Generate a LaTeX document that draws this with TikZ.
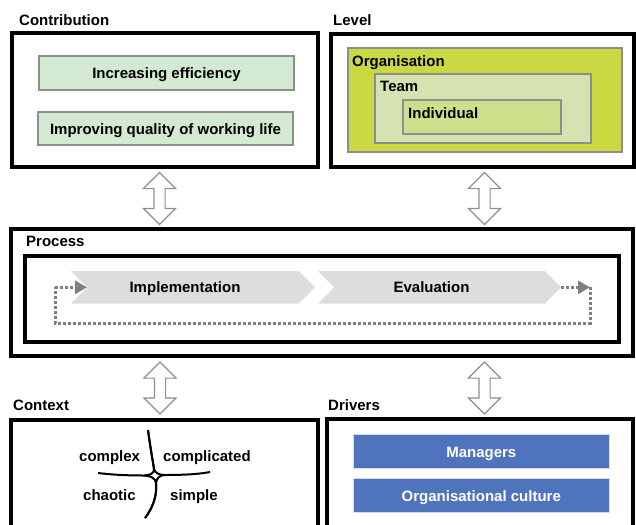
\documentclass[tikz,border=0pt]{standalone}
\usepackage{fontspec}
\setmainfont{Liberation Sans}
\usepackage{tikz}
\usetikzlibrary{positioning, shapes.arrows, shapes.symbols, arrows.meta}
\tikzstyle{canvas} = [x = 1pt, y = -1pt, every node/.style={font=\fontsize{15}{18}\selectfont\bfseries}]
\definecolor{contributionGreen}{HTML}{D4E9D2}
\definecolor{organisationColor}{HTML}{CAD941}
\definecolor{teamColor}{HTML}{D4E3B0}
\definecolor{individualColor}{HTML}{CCE08B}
\definecolor{driverBlue}{HTML}{4F74BD}
\definecolor{chevronGray}{HTML}{DCDDDE}
\definecolor{loopGray}{HTML}{7F7F7F}
\definecolor{outlineGray}{HTML}{8E8E8E}
\tikzstyle{frameStyle} = [draw=black, line width=4pt, inner sep=0]
\tikzstyle{titleText} = [anchor=base west, inner sep=0]
\tikzstyle{greenBox} = [draw=outlineGray, fill=contributionGreen, line width=2pt, text height=11pt, text depth=0pt, inner sep=0]
\tikzstyle{levelBox} = [draw=outlineGray, line width=2pt, inner sep=0]
\tikzstyle{driverBox} = [fill=driverBlue, draw=white!75!driverBlue, text=white, line width=.8pt, text height=11pt, text depth=0pt, inner sep=0]
\tikzstyle{chevronStyle} = [signal, signal to=east, signal from=west, signal pointer angle=90, fill=chevronGray, inner sep=0]
\tikzstyle{processText} = [text height=11pt, text depth=0pt, inner sep=0]
\tikzstyle{loopLine} = [loopGray, line width=3pt, dash pattern=on 3pt off 2pt]
\tikzstyle{loopTip} = [-{Triangle[length=12pt, width=13pt]}]
\tikzstyle{linkArrow} = [double arrow, draw=outlineGray, fill=white, line width=1.2pt, rotate=90, minimum height=52pt, inner xsep=0pt, inner ysep=5pt, double arrow head extend=10.5pt]
\tikzstyle{cynefinLine} = [black, line width=2pt]
\newcommand{\boxAt}[7]{\node [#6, minimum width = #4 - #2, minimum height = #5 - #3] (#1) at ({(#2 + #4) / 2}, {(#3 + #5) / 2}) {#7};}

\begin{document}
\begin{tikzpicture}[canvas]
    \useasboundingbox (0,0) rectangle (636,524);
    \boxAt{contribution}{11.5}{33.5}{318}{166.5}{frameStyle}{}
    \boxAt{level}{330.5}{34}{634}{166.5}{frameStyle}{}
    \boxAt{process}{11.3}{228.7}{633}{355.5}{frameStyle}{}
    \boxAt{processInner}{24.7}{256.3}{618.7}{342}{frameStyle}{}
    \boxAt{context}{11.3}{420.3}{317.5}{545}{frameStyle}{}
    \boxAt{drivers}{327.3}{418.7}{633}{545}{frameStyle}{}
    \node [titleText] (contributionTitle) at (19,26) {Contribution};
    \node [titleText] (levelTitle) at (333,26) {Level};
    \node [titleText] (processTitle) at (26,246) {Process};
    \node [titleText] (contextTitle) at (13,410) {Context};
    \node [titleText] (driversTitle) at (328,410) {Drivers};
    \boxAt{efficiency}{38.7}{56}{294.3}{90}{greenBox}{Increasing efficiency}
    \boxAt{quality}{37.7}{112}{293.3}{145.3}{greenBox}{Improving quality of working life}
    \boxAt{organisation}{347.7}{48.3}{622.3}{152}{levelBox, fill=organisationColor}{}
    \boxAt{team}{375.3}{73.7}{591}{143.3}{levelBox, fill=teamColor}{}
    \boxAt{individual}{403.3}{99.7}{561.3}{134.3}{levelBox, fill=individualColor}{}
    \node [titleText] (organisationText) at (352,66.5) {Organisation};
    \node [titleText] (teamText) at (380,91.5) {Team};
    \node [titleText] (individualText) at (408,118) {Individual};
    \node [chevronStyle, minimum width=244, minimum height=32.5] (implementation) at (193,287.3) {};
    \node [chevronStyle, minimum width=243, minimum height=32.5] (evaluation) at (439.5,287.3) {};
    \node [processText] (implementationText) at ([xshift=-8pt]implementation.center) {Implementation};
    \node [processText] (evaluationText) at ([xshift=-8pt]evaluation.center) {Evaluation};
    \coordinate (loopRight) at (590,287.3);
    \coordinate (loopLeft) at (55,287.3);
    \draw [loopLine, loopTip] (evaluation.east) -- (loopRight);
    \draw [loopLine] (loopRight) -- ++(0,36) -| (loopLeft);
    \draw [loopLine, loopTip] (loopLeft) -- (implementation.west);
    \boxAt{managers}{353.3}{434.3}{609.3}{468.7}{driverBox}{Managers}
    \boxAt{culture}{353.3}{478.3}{609.3}{512.7}{driverBox}{Organisational culture}
    \node [linkArrow] (contributionLink) at (159.5,198.5) {};
    \node [linkArrow] (levelLink) at (484.5,198.5) {};
    \node [linkArrow] (contextLink) at (160,388) {};
    \node [linkArrow] (driversLink) at (484.5,388) {};
    \draw [cynefinLine] (148,430) .. controls (151,452) and (153,462) .. (154,469) .. controls (154.5,473) and (150,475.5) .. (144,475.5) .. controls (125,475.5) and (110,474.5) .. (98,473);
    \draw [cynefinLine] (148,430) .. controls (151,452) and (153,462) .. (154,469) .. controls (155,473) and (159,475) .. (165,475) .. controls (185,475) and (200,474) .. (210,472);
    \draw [cynefinLine] (145,518) .. controls (155,505) and (157,492) .. (156,483) .. controls (155.5,478) and (150,475.5) .. (144,475.5);
    \draw [cynefinLine] (145,518) .. controls (155,505) and (157,492) .. (156,483) .. controls (156.5,478) and (160,475) .. (165,475);
    \node [titleText] (complexText) at (79,461.5) {complex};
    \node [titleText] (complicatedText) at (163,461.5) {complicated};
    \node [titleText] (chaoticText) at (83,500) {chaotic};
    \node [titleText] (simpleText) at (170,500) {simple};
\end{tikzpicture}
\end{document}
